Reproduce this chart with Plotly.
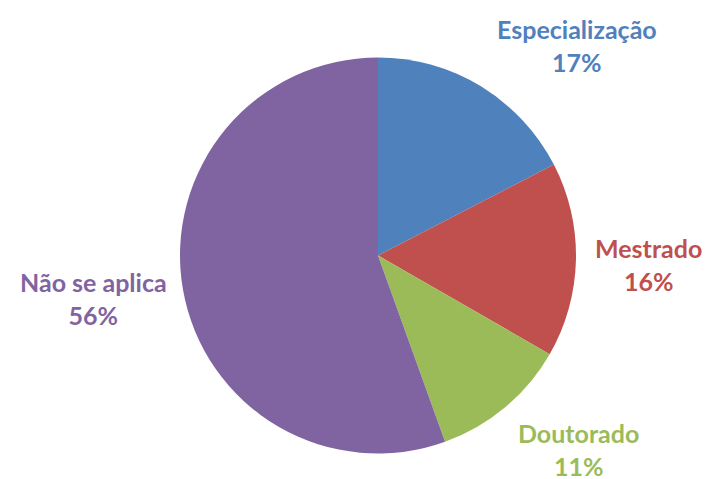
import math
import plotly.graph_objects as go

labels = ["Especialização", "Mestrado", "Doutorado", "Não se aplica"]
values = [17.4, 15.9, 11.2, 55.5]
colors = ["#4F81BD", "#C0504D", "#9BBB59", "#8064A2"]

W, H = 706, 479
CX, CY, R = 378, 255.5, 198
GAP = 18
FONT = "Lato"
# small per-label pixel nudges (dx, dy) to mimic the reference label placement
label_nudge = [(6, 7), (0, 4), (0, -4), (3, 6)]

fig = go.Figure(go.Pie(
    labels=labels,
    values=values,
    sort=False,
    direction="clockwise",
    rotation=0,
    marker=dict(colors=colors, line=dict(width=0)),
    textinfo="none",
    hoverinfo="label+percent",
    showlegend=False,
    domain=dict(x=[(CX - R) / W, (CX + R) / W],
                y=[(H - CY - R) / H, (H - CY + R) / H]),
))

total = sum(values)
cum = 0.0
annotations = []
for lab, val, col, (ndx, ndy) in zip(labels, values, colors, label_nudge):
    mid = (cum + val / 2) / total * 2 * math.pi
    cum += val
    s, c = math.sin(mid), math.cos(mid)
    px = CX + (R + GAP) * s + ndx
    py = CY - (R + GAP) * c + ndy
    xa = "left" if s > 0.1 else ("right" if s < -0.1 else "center")
    ya = "bottom" if c > 0.5 else ("top" if c < -0.5 else "middle")
    pct = round(val / total * 100)
    annotations.append(dict(
        x=px / W, y=1 - py / H, xref="paper", yref="paper",
        xanchor=xa, yanchor=ya, showarrow=False, align="center",
        borderpad=0,
        text=f"<b>{lab}<br>{pct}%</b>",
        font=dict(family=FONT, size=25, color=col),
    ))

fig.update_layout(
    width=W, height=H,
    margin=dict(l=0, r=0, t=0, b=0),
    paper_bgcolor="white", plot_bgcolor="white",
    annotations=annotations,
)

fig.write_html("out.html", config={"displayModeBar": False},
               post_script="document.body.style.margin='0';document.body.style.overflow='hidden';")
